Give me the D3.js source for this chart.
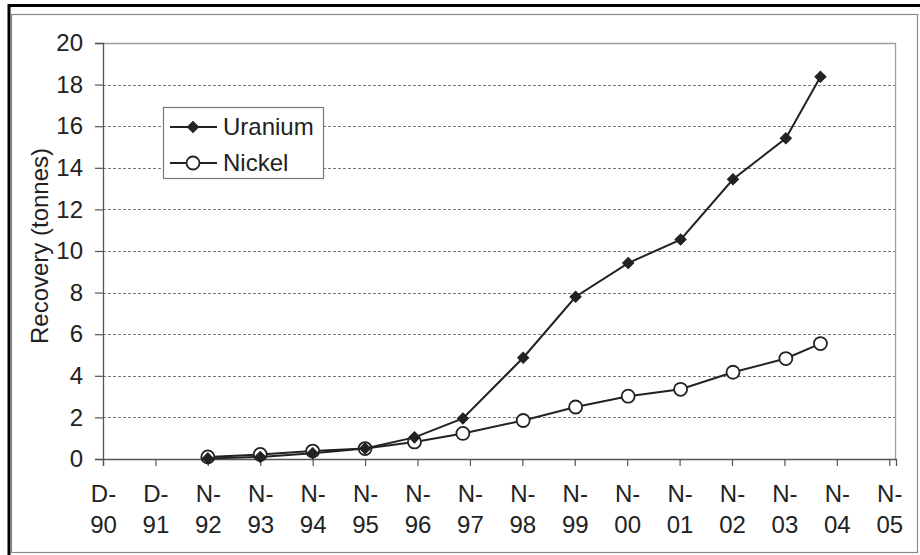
<!DOCTYPE html>
<html>
<head>
<meta charset="utf-8">
<script src="https://cdn.jsdelivr.net/npm/d3@7"></script>
<style>
  html, body { margin: 0; padding: 0; background: #fff; }
  svg { display: block; font-family: "Liberation Sans", Arial, sans-serif; }
</style>
</head>
<body>
<svg id="chart" width="920" height="555"></svg>
<script>
// Sample dates (ISO) and recovered mass in tonnes
const sampleDates = ["1992-11-30", "1993-11-30", "1994-11-30", "1995-11-30", "1996-11-08",
                     "1997-10-11", "1998-12-05", "1999-12-05", "2000-12-05", "2001-12-05",
                     "2002-12-05", "2003-12-08", "2004-08-05"];
const uranium = [0.03, 0.1, 0.28, 0.5, 1.04, 1.95, 4.87, 7.8, 9.42, 10.55, 13.45, 15.42, 18.38];
const nickel  = [0.1, 0.22, 0.38, 0.5, 0.82, 1.23, 1.85, 2.5, 3.02, 3.35, 4.17, 4.83, 5.55];

// Axis: ticks every 365 days from 1 Dec 1990, labelled month initial + two-digit year
const axisStart = "1990-12-01";
const axisEnd = "2006-01-13";
const tickCount = 16;
const yTicks = [0, 2, 4, 6, 8, 10, 12, 14, 16, 18, 20];
const seriesNames = ["Uranium", "Nickel"];
const yTitle = "Recovery (tonnes)";

const svg = d3.select("#chart");
const ink = "#222";
const plot = { left: 103, right: 896, top: 43, bottom: 459 };

const parse = d3.utcParse("%Y-%m-%d");
const x = d3.scaleUtc().domain([parse(axisStart), parse(axisEnd)]).range([plot.left, plot.right]);
const y = d3.scaleLinear().domain([0, 20]).range([plot.bottom, plot.top]);

const tickDates = d3.range(tickCount).map(i => d3.utcDay.offset(parse(axisStart), 365 * i));
const monthInitial = d => d3.utcFormat("%b")(d).charAt(0) + "-";
const yy = d3.utcFormat("%y");

// Frame around the figure
svg.append("rect").attr("x", 11.5).attr("y", 14.5).attr("width", 906).attr("height", 538)
  .attr("fill", "none").attr("stroke", "#8a8a8a").attr("stroke-width", 1.2);
svg.append("path").attr("d", "M9,555 V5.5 H920")
  .attr("fill", "none").attr("stroke", "#000").attr("stroke-width", 3);

// Horizontal gridlines (dashed), top border solid
const grid = svg.append("g");
grid.selectAll("line").data(yTicks.filter(v => v > 0 && v < 20)).join("line")
  .attr("x1", plot.left).attr("x2", plot.right)
  .attr("y1", d => Math.round(y(d)) + 0.5).attr("y2", d => Math.round(y(d)) + 0.5)
  .attr("stroke", "#7a7a7a").attr("stroke-width", 1).attr("stroke-dasharray", "3,2");
svg.append("path")
  .attr("d", `M${plot.left},${plot.top + 0.5} H${plot.right - 0.5} V${plot.bottom}`)
  .attr("fill", "none").attr("stroke", "#a0a0a0").attr("stroke-width", 1.3);

// Y axis
const yAxis = svg.append("g").attr("transform", `translate(${plot.left},0)`)
  .call(d3.axisLeft(y).tickValues(yTicks).tickSize(8).tickPadding(12).tickFormat(d3.format("d")));
yAxis.attr("font-size", null).attr("font-family", null);
yAxis.select(".domain").attr("stroke", "#555").attr("stroke-width", 1.3);
yAxis.selectAll(".tick line").attr("stroke", "#555").attr("stroke-width", 1.2);
yAxis.selectAll(".tick text").attr("fill", ink).style("font-size", "24px");

// X axis
const xAxis = svg.append("g").attr("transform", `translate(0,${plot.bottom})`)
  .call(d3.axisBottom(x).tickValues(tickDates).tickSize(7).tickFormat(""));
xAxis.attr("font-size", null).attr("font-family", null);
xAxis.select(".domain").attr("stroke", "#555").attr("stroke-width", 1.3);
xAxis.selectAll(".tick line").attr("stroke", "#555").attr("stroke-width", 1.2);
const xLabels = xAxis.selectAll(".tick").append("text")
  .attr("fill", ink).style("font-size", "24px").attr("text-anchor", "middle");
xLabels.append("tspan").attr("x", 0).attr("y", 42.5).text(d => monthInitial(d));
xLabels.append("tspan").attr("x", 0).attr("y", 73.5).text(d => yy(d));

// Y axis title
svg.append("text")
  .attr("transform", "translate(48,246) rotate(-90)")
  .attr("text-anchor", "middle").attr("fill", ink).style("font-size", "24px")
  .text(yTitle);

// Series
const dates = sampleDates.map(parse);
const line = d3.line().x(d => x(d[0])).y(d => y(d[1]));
const niPts = dates.map((d, i) => [d, nickel[i]]);
const uPts = dates.map((d, i) => [d, uranium[i]]);

svg.append("path").datum(niPts).attr("d", line)
  .attr("fill", "none").attr("stroke", ink).attr("stroke-width", 2);
svg.append("g").selectAll("circle").data(niPts).join("circle")
  .attr("cx", d => x(d[0])).attr("cy", d => y(d[1])).attr("r", 6.5)
  .attr("fill", "#fff").attr("stroke", ink).attr("stroke-width", 1.8);

svg.append("path").datum(uPts).attr("d", line)
  .attr("fill", "none").attr("stroke", ink).attr("stroke-width", 2);
svg.append("g").selectAll("path").data(uPts).join("path")
  .attr("transform", d => `translate(${x(d[0])},${y(d[1])}) rotate(45)`)
  .attr("d", d3.symbol().type(d3.symbolSquare).size(62))
  .attr("fill", ink).attr("stroke", ink).attr("stroke-width", 1);

// Legend
const legend = svg.append("g");
legend.append("rect").attr("x", 163.5).attr("y", 107.5).attr("width", 160).attr("height", 71)
  .attr("fill", "#fff").attr("stroke", "#777").attr("stroke-width", 1.2);
const rows = legend.selectAll("g.row").data(seriesNames).join("g").attr("class", "row")
  .attr("transform", (d, i) => `translate(0,${127 + i * 36})`);
rows.append("line").attr("x1", 170).attr("x2", 217).attr("y1", 0).attr("y2", 0)
  .attr("stroke", ink).attr("stroke-width", 2);
rows.filter((d, i) => i === 0).append("path")
  .attr("transform", "translate(193,0) rotate(45)")
  .attr("d", d3.symbol().type(d3.symbolSquare).size(62))
  .attr("fill", ink).attr("stroke", ink);
rows.filter((d, i) => i === 1).append("circle")
  .attr("cx", 193).attr("cy", 0).attr("r", 6.5)
  .attr("fill", "#fff").attr("stroke", ink).attr("stroke-width", 1.8);
rows.append("text").attr("x", 223).attr("y", 0).attr("dy", "0.35em")
  .attr("fill", ink).style("font-size", "24px").text(d => d);
</script>
</body>
</html>
